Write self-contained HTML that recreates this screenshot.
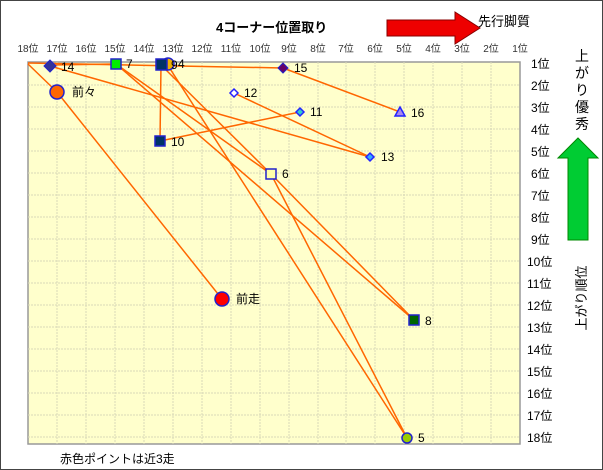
<!DOCTYPE html>
<html><head><meta charset="utf-8"><style>
html,body{margin:0;padding:0;background:#fff}
svg{display:block;font-family:"Liberation Sans","Noto Sans CJK JP",sans-serif}
</style></head><body>
<svg width="603" height="470" viewBox="0 0 603 470" xmlns="http://www.w3.org/2000/svg">
<rect x="0.5" y="0.5" width="602" height="469" fill="#fff" stroke="#444" stroke-width="1"/>
<rect x="28" y="62" width="492" height="382" fill="#ffffcc" stroke="#999" stroke-width="1.5"/>
<g stroke="#d8d8b8" stroke-width="1" stroke-dasharray="2,1">
<line x1="57" y1="62" x2="57" y2="444"/><line x1="86" y1="62" x2="86" y2="444"/><line x1="115" y1="62" x2="115" y2="444"/><line x1="144" y1="62" x2="144" y2="444"/><line x1="173" y1="62" x2="173" y2="444"/><line x1="202" y1="62" x2="202" y2="444"/><line x1="231" y1="62" x2="231" y2="444"/><line x1="260" y1="62" x2="260" y2="444"/><line x1="289" y1="62" x2="289" y2="444"/><line x1="318" y1="62" x2="318" y2="444"/><line x1="346" y1="62" x2="346" y2="444"/><line x1="375" y1="62" x2="375" y2="444"/><line x1="404" y1="62" x2="404" y2="444"/><line x1="433" y1="62" x2="433" y2="444"/><line x1="462" y1="62" x2="462" y2="444"/><line x1="491" y1="62" x2="491" y2="444"/>
<line x1="28" y1="85" x2="520" y2="85"/><line x1="28" y1="107" x2="520" y2="107"/><line x1="28" y1="129" x2="520" y2="129"/><line x1="28" y1="151" x2="520" y2="151"/><line x1="28" y1="173" x2="520" y2="173"/><line x1="28" y1="195" x2="520" y2="195"/><line x1="28" y1="217" x2="520" y2="217"/><line x1="28" y1="239" x2="520" y2="239"/><line x1="28" y1="261" x2="520" y2="261"/><line x1="28" y1="283" x2="520" y2="283"/><line x1="28" y1="305" x2="520" y2="305"/><line x1="28" y1="327" x2="520" y2="327"/><line x1="28" y1="349" x2="520" y2="349"/><line x1="28" y1="371" x2="520" y2="371"/><line x1="28" y1="393" x2="520" y2="393"/><line x1="28" y1="415" x2="520" y2="415"/><line x1="28" y1="437" x2="520" y2="437"/>
</g>
<g stroke="#ff6600" stroke-width="1.5" fill="none">
<line x1="28" y1="63" x2="283" y2="68"/>
<line x1="50" y1="65" x2="116" y2="64"/>
<line x1="28" y1="64" x2="57" y2="92"/>
<line x1="57" y1="92" x2="222" y2="299"/>
<line x1="50" y1="66" x2="370" y2="157"/>
<line x1="234" y1="93" x2="370" y2="157"/>
<line x1="160" y1="141" x2="300" y2="112"/>
<line x1="161" y1="65" x2="160" y2="141"/>
<line x1="283" y1="68" x2="400" y2="112"/>
<line x1="116" y1="64" x2="271" y2="174"/>
<line x1="161" y1="65" x2="271" y2="174"/>
<line x1="116" y1="64" x2="414" y2="320"/>
<line x1="271" y1="174" x2="414" y2="320"/>
<line x1="167" y1="64" x2="407" y2="438"/>
<line x1="271" y1="174" x2="407" y2="438"/>
</g>
<polygon points="50,60 56,66 50,72 44,66" fill="#333399" stroke="#2222cc"/>
<rect x="111" y="59" width="10" height="10" fill="#00ee00" stroke="#2222cc" stroke-width="1.5"/>
<circle cx="168" cy="64" r="6" fill="#f0b000" stroke="#2222cc" stroke-width="1.5"/>
<rect x="156" y="59" width="11" height="11" fill="#003366" stroke="#2222cc" stroke-width="1.5"/>
<polygon points="283,63 288,68 283,73 278,68" fill="#660066" stroke="#2222cc"/>
<circle cx="57" cy="92" r="7" fill="#ff6600" stroke="#2222cc" stroke-width="1.5"/>
<polygon points="234,89 238,93 234,97 230,93" fill="#fff" stroke="#2222ff" stroke-width="1.5"/>
<polygon points="300,108 304,112 300,116 296,112" fill="#33cccc" stroke="#2222ff" stroke-width="1.5"/>
<polygon points="400,107 405,116 395,116" fill="#aa88ee" stroke="#2222ff" stroke-width="1.5"/>
<rect x="155" y="136" width="10" height="10" fill="#003366" stroke="#2222cc" stroke-width="1.5"/>
<polygon points="370,153 374,157 370,161 366,157" fill="#33aaff" stroke="#2222ff" stroke-width="1.5"/>
<rect x="266" y="169" width="10" height="10" fill="#ffffaa" stroke="#2222cc" stroke-width="1.5"/>
<circle cx="222" cy="299" r="7" fill="#ff0000" stroke="#2222cc" stroke-width="1.5"/>
<rect x="409" y="315" width="10" height="10" fill="#006600" stroke="#2222cc" stroke-width="1.5"/>
<circle cx="407" cy="438" r="5" fill="#99cc00" stroke="#2222cc" stroke-width="1.5"/>
<g font-size="12" fill="#000">
<text x="61" y="71">14</text><text x="126" y="68">7</text><text x="171" y="69">9</text><text x="178" y="68">4</text>
<text x="294" y="72">15</text><text x="72" y="96">前々</text><text x="244" y="97">12</text><text x="310" y="116">11</text>
<text x="411" y="117">16</text><text x="171" y="146">10</text><text x="381" y="161">13</text><text x="282" y="178">6</text>
<text x="236" y="303">前走</text><text x="425" y="325">8</text><text x="418" y="442">5</text>
</g>
<g font-size="10" fill="#333" text-anchor="middle">
<text x="28" y="52">18位</text><text x="57" y="52">17位</text><text x="86" y="52">16位</text><text x="115" y="52">15位</text><text x="144" y="52">14位</text><text x="173" y="52">13位</text><text x="202" y="52">12位</text><text x="231" y="52">11位</text><text x="260" y="52">10位</text><text x="289" y="52">9位</text><text x="318" y="52">8位</text><text x="346" y="52">7位</text><text x="375" y="52">6位</text><text x="404" y="52">5位</text><text x="433" y="52">4位</text><text x="462" y="52">3位</text><text x="491" y="52">2位</text><text x="520" y="52">1位</text>
</g>
<g font-size="12" fill="#000">
<text x="531" y="68">1位</text><text x="531" y="90">2位</text><text x="531" y="112">3位</text><text x="531" y="134">4位</text><text x="531" y="156">5位</text><text x="531" y="178">6位</text><text x="531" y="200">7位</text><text x="531" y="222">8位</text><text x="531" y="244">9位</text><text x="527" y="266">10位</text><text x="527" y="288">11位</text><text x="527" y="310">12位</text><text x="527" y="332">13位</text><text x="527" y="354">14位</text><text x="527" y="376">15位</text><text x="527" y="398">16位</text><text x="527" y="420">17位</text><text x="527" y="442">18位</text>
</g>
<text x="216" y="32" font-size="13" font-weight="bold">4コーナー位置取り</text>
<polygon points="387,20 455,20 455,12 480,28 455,44 455,36 387,36" fill="#ee0000" stroke="#880000" stroke-width="1"/>
<text x="478" y="26" font-size="13">先行脚質</text>
<g font-size="14" text-anchor="middle"><text x="582" y="61">上</text><text x="582" y="78">が</text><text x="582" y="95">り</text><text x="582" y="112">優</text><text x="582" y="129">秀</text></g>
<polygon points="578,138 598,158 588,158 588,240 568,240 568,158 558,158" fill="#00cc33" stroke="#008800" stroke-width="1"/>
<text transform="translate(586,298) rotate(-90)" font-size="13" text-anchor="middle">上がり順位</text>
<text x="60" y="463" font-size="12">赤色ポイントは近3走</text>
</svg>
</body></html>
